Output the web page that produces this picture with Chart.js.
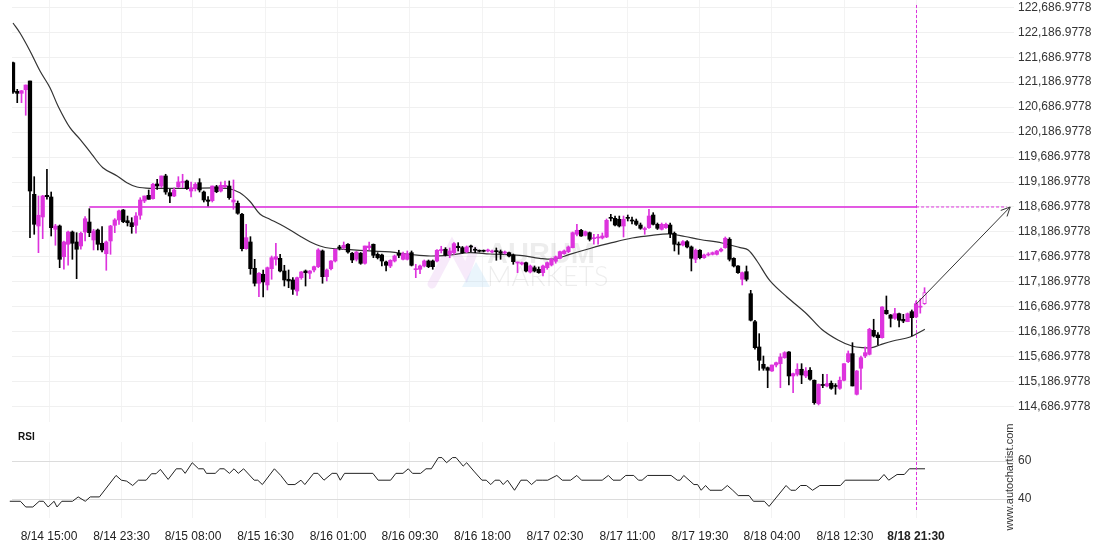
<!DOCTYPE html>
<html>
<head>
<meta charset="utf-8">
<script src="https://cdn.jsdelivr.net/npm/chart.js@4.4.1/dist/chart.umd.min.js"></script>
<style>
  body { margin: 0; background: #fff; }
  #wrap { position: relative; width: 1110px; height: 550px; }
  canvas { position: absolute; left: 0; }
</style>
</head>
<body>
<div id="wrap">
  <canvas id="priceChart" width="1110" height="422" style="top:0"></canvas>
  <canvas id="rsiChart" width="1110" height="128" style="top:422px"></canvas>
</div>
<script>
// 30 min candles, index 0 = first bar on the left
const opens = [
  121577, 121004, 120964, 121036, 121211, 118941, 118306, 118487, 118921, 118887,
  118240, 118306, 117691, 117940, 118186, 117986, 117906, 118186, 118386, 118026,
  118226, 117960, 117751, 118006, 118320, 118427, 118627, 118412, 118372, 118320,
  118521, 118807, 118921, 118853, 119148, 119107, 119308, 118973, 118907, 119093,
  119177, 119208, 119007, 119054, 119174, 118987, 118827, 118813, 119093, 119007,
  119093, 119107, 118787, 118761, 118541, 117852, 117986, 117459, 117159, 117339,
  117125, 117451, 117639, 117659, 117405, 117239, 117225, 117004, 117271, 117405,
  117359, 117425, 117491, 117806, 117291, 117451, 117605, 117886, 117872, 117940,
  117760, 117639, 117760, 117559, 117872, 117940, 117739, 117725, 117585, 117505,
  117605, 117759, 117639, 117639, 117772, 117431, 117439, 117505, 117605, 117605,
  117605, 117812, 117840, 117739, 117772, 117900, 117872, 117792, 117906, 117826,
  117806, 117806, 117806, 117786, 117806, 117792, 117766, 117772, 117725, 117565,
  117545, 117571, 117385, 117471, 117439, 117371, 117471, 117525, 117600, 117659,
  117751, 117792, 117872, 118140, 118220, 118120, 118172, 118052, 118066, 118066,
  118086, 118473, 118460, 118440, 118306, 118473, 118420, 118406, 118326, 118236,
  118272, 118526, 118340, 118240, 118272, 118326, 118160, 117940, 117926, 117992,
  117886, 117639, 117820, 117671, 117725, 117739, 117739, 117806, 117872, 118040,
  117659, 117505, 117239, 117391, 116950, 116389, 115883, 115536, 115468, 115402,
  115522, 115548, 115669, 115783, 115302, 115336, 115436, 115302, 115416, 115216,
  114747, 115122, 115102, 115156, 115102, 115055, 115216, 115588, 115749, 114935,
  115456, 115702, 115736, 116217, 116123, 116069, 116618, 116524, 116457, 116550,
  116437, 116389, 116590, 116484, 116680, 116750
];
const highs = [
  121591, 121044, 121020, 121130, 121211, 119294, 118907, 118921, 119442, 118987,
  118340, 118326, 118006, 118206, 118206, 118172, 118186, 118493, 118653, 118240,
  118246, 118292, 118006, 118320, 118453, 118627, 118637, 118506, 118473, 118573,
  118873, 118907, 119027, 119162, 119242, 119308, 119342, 119041, 119073, 119294,
  119342, 119228, 119188, 119174, 119254, 119007, 118893, 119107, 119121, 119188,
  119208, 119208, 119228, 118807, 118561, 118340, 118092, 117639, 117375, 117425,
  117485, 117705, 117960, 117739, 117519, 117425, 117271, 117285, 117395, 117425,
  117415, 117505, 117852, 117826, 117445, 117615, 117846, 117920, 117986, 117956,
  117776, 117796, 117776, 117906, 117986, 117946, 117772, 117745, 117605, 117631,
  117725, 117820, 117786, 117806, 117806, 117539, 117525, 117625, 117625, 117625,
  117836, 117900, 117872, 117866, 117972, 117972, 117896, 117906, 117926, 117872,
  117826, 117826, 117846, 117826, 117866, 117826, 117806, 117786, 117745, 117585,
  117585, 117585, 117525, 117505, 117485, 117525, 117585, 117665, 117705, 117806,
  117826, 117906, 118186, 118340, 118240, 118206, 118186, 118140, 118140, 118166,
  118446, 118540, 118506, 118506, 118506, 118526, 118486, 118446, 118366, 118286,
  118641, 118573, 118366, 118366, 118366, 118366, 118186, 117986, 118016, 118016,
  117906, 117846, 117836, 117745, 117772, 117786, 117816, 117866, 118086, 118072,
  117671, 117515, 117385, 117505, 117018, 116418, 116149, 115702, 115482, 115522,
  115582, 115749, 115789, 115789, 115362, 115548, 115548, 115468, 115468, 115222,
  115142, 115336, 115336, 115202, 115148, 115282, 115548, 115803, 115969, 115412,
  115702, 115883, 116257, 116438, 116169, 116694, 116904, 116534, 116658, 116564,
  116537, 116564, 116624, 116804, 116850, 117070
];
const lows = [
  120964, 120776, 120776, 120524, 118072, 118140, 117772, 118052, 118841, 118106,
  117920, 117471, 117439, 117519, 117639, 117251, 117840, 118006, 118092, 117826,
  117826, 117786, 117419, 117739, 118172, 118340, 118372, 118306, 118160, 118160,
  118440, 118773, 118841, 118841, 119041, 119073, 118941, 118773, 118893, 119073,
  119073, 119041, 118887, 119007, 118987, 118787, 118707, 118787, 118973, 118987,
  119073, 118841, 118641, 118541, 117806, 117840, 117339, 117104, 116890, 116884,
  117024, 117239, 117519, 117385, 117104, 117070, 116938, 116918, 117239, 117104,
  117251, 117385, 117471, 117159, 117205, 117425, 117585, 117826, 117840, 117760,
  117571, 117605, 117539, 117539, 117826, 117671, 117645, 117505, 117405, 117471,
  117585, 117671, 117625, 117625, 117505, 117271, 117351, 117485, 117471, 117439,
  117585, 117766, 117705, 117671, 117739, 117806, 117760, 117772, 117792, 117772,
  117786, 117786, 117786, 117766, 117619, 117639, 117745, 117685, 117539, 117371,
  117525, 117385, 117365, 117385, 117359, 117305, 117439, 117505, 117560, 117645,
  117739, 117772, 117866, 118106, 118096, 118106, 118006, 117940, 117940, 118046,
  118072, 118406, 118306, 118286, 118086, 118406, 118346, 118316, 118240, 118140,
  118260, 118326, 118236, 118226, 118260, 118072, 117806, 117739, 117906, 117866,
  117405, 117571, 117645, 117659, 117705, 117725, 117725, 117786, 117860, 117605,
  117485, 117355, 117125, 117205, 116403, 115837, 115416, 115416, 115067, 115392,
  115482, 115067, 115656, 115122, 114967, 115302, 115148, 115268, 115216, 114735,
  114721, 115067, 115081, 115035, 114935, 115035, 115202, 115568, 115102, 114921,
  115035, 115669, 115722, 116083, 115923, 116057, 116537, 116283, 116437, 116283,
  116369, 116389, 116103, 116470, 116560, 116737
];
const closes = [
  120990, 120964, 121016, 121130, 119007, 118340, 118521, 118907, 118893, 118272,
  118306, 117639, 117986, 118186, 117960, 117840, 118160, 118452, 118172, 118206,
  117940, 117826, 117986, 118306, 118427, 118607, 118392, 118372, 118292, 118506,
  118827, 118907, 118841, 119142, 119107, 119308, 118987, 118907, 119027, 119188,
  119194, 119054, 119067, 119142, 119027, 118827, 118801, 119107, 118993, 119121,
  119121, 118873, 118827, 118561, 117852, 118072, 117451, 117159, 117359, 117185,
  117471, 117671, 117691, 117405, 117225, 117205, 117038, 117271, 117385, 117371,
  117405, 117491, 117826, 117291, 117425, 117605, 117840, 117860, 117920, 117786,
  117625, 117786, 117559, 117906, 117906, 117719, 117671, 117605, 117519, 117619,
  117705, 117719, 117751, 117751, 117519, 117445, 117505, 117605, 117491, 117491,
  117820, 117836, 117725, 117806, 117952, 117872, 117772, 117886, 117886, 117820,
  117800, 117800, 117806, 117792, 117792, 117760, 117766, 117705, 117591, 117571,
  117571, 117405, 117505, 117405, 117371, 117505, 117571, 117639, 117690, 117792,
  117806, 117886, 118172, 118220, 118106, 118192, 118040, 118060, 118072, 118106,
  118420, 118460, 118326, 118306, 118440, 118460, 118406, 118340, 118260, 118240,
  118506, 118340, 118260, 118340, 118340, 118152, 117940, 117926, 117992, 117886,
  117659, 117820, 117671, 117725, 117739, 117772, 117806, 117840, 118060, 117639,
  117505, 117371, 117371, 117239, 116418, 115869, 115616, 115456, 115416, 115522,
  115568, 115682, 115769, 115302, 115348, 115436, 115322, 115402, 115236, 114767,
  115136, 115112, 115148, 115055, 115092, 115216, 115548, 115749, 115102, 115402,
  115669, 115769, 116237, 116103, 116069, 116684, 116550, 116457, 116550, 116418,
  116403, 116550, 116470, 116750, 116700, 116970
];

// moving average, read at bar positions
const maIdx = [0, 1.65, 4.01, 6.37, 8.72, 10.61, 13.43, 15.82, 18.6, 21.19, 24.57, 26.86, 29.25, 32.33,
  41.09, 50.44, 53.52, 55.91, 58.3, 60.58, 62.97, 65.36, 67.65, 70.03, 72.42, 74.81, 79.49, 84.16,
  88.94, 93.61, 98.39, 103.06, 107.74, 112.51, 119.58, 124.25, 127.83, 131.31, 136.09, 141.26,
  146.04, 150.71, 154.99, 158.47, 162.05, 167.23, 171.51, 173.4, 175.48, 178.57, 182.55, 187.22,
  190.8, 194.58, 197.87, 200.45, 202.54, 204.43, 207.52, 211.6, 215.08];
const maVals = [122372, 122172, 121812, 121411, 121076, 120710, 120275, 120043, 119742, 119474, 119308,
  119174, 119087, 119061, 119061, 119061, 118973, 118797, 118541, 118441, 118340, 118226, 118106,
  117992, 117906, 117860, 117832, 117806, 117786, 117739, 117705, 117725, 117771, 117745, 117719,
  117659, 117645, 117739, 117856, 117972, 118066, 118120, 118146, 118096, 118036, 117966, 117872,
  117826, 117605, 117205, 116884, 116544, 116233, 116023, 115902, 115868, 115868, 115923, 116003,
  116083, 116237];

// RSI turning points
const rsiIdx = [-0.76, 1.75, 3.0, 4.68, 6.18, 7.18, 8.27, 9.69, 10.36, 11.52, 14.03, 15.37, 17.04, 18.21,
  20.38, 24.3, 25.56, 26.81, 28.23, 29.57, 31.41, 32.66, 33.74, 34.75, 36.59, 38.51, 39.76, 40.6,
  42.27, 43.77, 44.95, 45.61, 47.7, 48.79, 49.79, 51.04, 52.13, 53.13, 54.39, 56.89, 57.73, 58.81,
  61.65, 63.15, 64.82, 66.49, 67.92, 68.83, 70.92, 71.92, 73.35, 75.27, 76.35, 77.19, 78.19, 84.88,
  86.13, 89.06, 90.31, 91.98, 93.23, 94.23, 96.15, 97.41, 98.67, 100.34, 101.17, 102.26, 103.67,
  104.5, 106.18, 107.01, 108.68, 110.6, 111.61, 112.69, 113.7, 114.78, 115.62, 116.62, 118.29,
  119.8, 121.22, 122.3, 123.48, 124.98, 126.13, 128.27, 129.55, 131.52, 132.98, 134.09, 138.97,
  140.42, 141.53, 143.24, 144.53, 146.41, 147.52, 148.38, 149.66, 155.22, 156.67, 157.36, 158.21,
  160.61, 161.47, 162.32, 163.35, 164.37, 167.2, 168.48, 169.76, 171.05, 173.61, 174.64, 177.21,
  178.32, 182.34, 183.45, 184.57, 185.76, 187.13, 188.59, 190.3, 195.17, 196.29, 204.24, 205.44,
  206.55, 208.52, 210.23, 211.43, 215.11];
const rsiVals = [38.8, 38.8, 35.8, 35.8, 38.8, 38.8, 35.8, 38.8, 35.8, 38.8, 38.8, 41.1, 38.8, 41.1,
  41.1, 52.4, 49.9, 49.4, 47.1, 49.9, 49.9, 53.3, 53.3, 55.6, 50.3, 55.9, 55.9, 53.5,
  59.1, 55.9, 55.9, 53.5, 53.5, 55.9, 55.9, 53.5, 55.9, 53.5, 55.9, 49.9, 49.9, 47.6,
  55.9, 52.4, 47.6, 47.6, 49.9, 47.6, 53.5, 53.5, 49.9, 53.5, 53.5, 49.9, 53.5, 53.5,
  49.9, 49.9, 53.5, 53.5, 55.9, 53.5, 53.5, 55.9, 55.9, 61.8, 61.8, 59.1, 61.8,
  61.8, 57.3, 59.1, 54.7, 49.9, 49.9, 47.6, 49.9, 49.9, 47.6, 49.9, 44.6,
  49.9, 49.9, 47.6, 49.9, 49.9, 49.9, 52.4, 49.9, 49.9, 52.4, 49.9, 49.9,
  52.4, 49.9, 49.9, 52.4, 52.4, 49.9, 49.9, 52.4, 52.4, 49.9, 49.9, 52.4,
  47.6, 47.6, 44.6, 47.1, 44.6, 44.6, 47.1, 44.6, 41.8, 41.8, 38.8, 38.8,
  36.1, 47.1, 44.6, 44.6, 47.1, 47.1, 44.6, 47.1, 47.1, 49.9, 49.9, 52.9,
  49.9, 52.9, 52.9, 55.9, 55.9];

const tickIdx = [8.49, 25.59, 42.45, 59.55, 76.65, 93.63, 110.73, 127.83, 144.93, 162.03, 179.01, 196.23, 213];
const tickLabels = ["8/14 15:00", "8/14 23:30", "8/15 08:00", "8/15 16:30", "8/16 01:00", "8/16 09:30",
  "8/16 18:00", "8/17 02:30", "8/17 11:00", "8/17 19:30", "8/18 04:00", "8/18 12:30", "8/18 21:30"];
const priceTicks = [114686.9778, 115186.9778, 115686.9778, 116186.9778, 116686.9778, 117186.9778,
  117686.9778, 118186.9778, 118686.9778, 119186.9778, 119686.9778, 120186.9778, 120686.9778,
  121186.9778, 121686.9778, 122186.9778, 122686.9778];
const rsiTicks = [40, 60];

const level = 118686.9778;
const levelStart = 18;
const nowIdx = 213;
const arrowFrom = [213, 116740];
const arrowTo = [235.2, 118686.9778];

const BULL = '#dd33dd';
const BEAR = '#000000';
const X_MIN = -0.24, X_MAX = 236.1;

Chart.defaults.font.family = "'Liberation Sans', Arial, sans-serif";
Chart.defaults.font.size = 12;
Chart.defaults.color = '#333';

const last = opens.length - 1;
const colors = opens.map((o, i) => closes[i] >= o ? BULL : BEAR);

const nowLine = {
  id: 'nowLine',
  afterDatasetsDraw(chart, args, opts) {
    const { ctx, scales: { x, y } } = chart;
    const px = Math.round(x.getPixelForValue(nowIdx)) + 0.5;
    const top = opts.from != null ? y.getPixelForValue(opts.from) : 0;
    const bottom = opts.to != null ? y.getPixelForValue(opts.to) : chart.height;
    ctx.save();
    ctx.strokeStyle = BULL;
    ctx.lineWidth = 1;
    ctx.setLineDash([3, 2]);
    ctx.beginPath();
    ctx.moveTo(px, top);
    ctx.lineTo(px, bottom);
    ctx.stroke();
    ctx.restore();
  }
};

const arrow = {
  id: 'arrow',
  afterDatasetsDraw(chart) {
    const { ctx, scales: { x, y } } = chart;
    const x1 = x.getPixelForValue(arrowFrom[0]), y1 = y.getPixelForValue(arrowFrom[1]);
    const x2 = x.getPixelForValue(arrowTo[0]), y2 = y.getPixelForValue(arrowTo[1]);
    const a = Math.atan2(y2 - y1, x2 - x1), h = 10;
    ctx.save();
    ctx.strokeStyle = '#333';
    ctx.lineWidth = 1;
    ctx.beginPath();
    ctx.moveTo(x1, y1);
    ctx.lineTo(x2, y2);
    ctx.moveTo(x2 - h * Math.cos(a - 0.45), y2 - h * Math.sin(a - 0.45));
    ctx.lineTo(x2, y2);
    ctx.lineTo(x2 - h * Math.cos(a + 0.45), y2 - h * Math.sin(a + 0.45));
    ctx.stroke();
    ctx.restore();
  }
};

// faint broker watermark behind the candles
const watermark = {
  id: 'watermark',
  beforeDatasetsDraw(chart) {
    const ctx = chart.ctx;
    ctx.save();
    ctx.lineCap = 'round';
    ctx.lineWidth = 9;
    ctx.strokeStyle = 'rgba(225,170,235,0.25)';
    ctx.beginPath();
    ctx.moveTo(432, 284); ctx.lineTo(452, 246); ctx.lineTo(466, 272); ctx.lineTo(474, 250);
    ctx.stroke();
    ctx.fillStyle = 'rgba(170,215,245,0.25)';
    ctx.beginPath();
    ctx.moveTo(462, 287); ctx.lineTo(476, 262); ctx.lineTo(490, 287); ctx.closePath();
    ctx.fill();
    ctx.fillStyle = 'rgba(0,0,0,0.07)';
    ctx.textBaseline = 'alphabetic';
    ctx.font = "bold 29px 'Liberation Sans', Arial, sans-serif";
    ctx.fillText('AURUM', 487, 263);
    ctx.font = "300 27px Lato, 'Liberation Sans', sans-serif";
    ctx.fillText('MARKETS', 487, 286);
    ctx.restore();
  }
};

const rsiText = {
  id: 'rsiText',
  afterDraw(chart) {
    const ctx = chart.ctx;
    ctx.save();
    ctx.fillStyle = '#111';
    ctx.font = "bold 10px 'Liberation Sans', Arial, sans-serif";
    ctx.textBaseline = 'middle';
    ctx.fillText('RSI', 18, 15);
    ctx.translate(1010, 55);
    ctx.rotate(-Math.PI / 2);
    ctx.textAlign = 'center';
    ctx.fillStyle = '#333';
    ctx.font = "11px 'Liberation Sans', Arial, sans-serif";
    ctx.fillText('www.autochartist.com', 0, 0);
    ctx.restore();
  }
};

function fixY(width) {
  return (scale) => {
    scale.width = width;
    scale.paddingTop = 0;
    scale.paddingBottom = 0;
  };
}

new Chart(document.getElementById('priceChart'), {
  type: 'bar',
  data: {
    datasets: [
      {
        type: 'line',
        data: [{ x: levelStart, y: level }, { x: nowIdx, y: level }],
        borderColor: 'rgba(221,51,221,0.8)',
        borderWidth: 2,
        pointRadius: 0,
        order: 5
      },
      {
        type: 'line',
        data: [{ x: nowIdx, y: level }, { x: 234.4, y: level }],
        borderColor: BULL,
        borderWidth: 1,
        borderDash: [3, 2],
        pointRadius: 0,
        order: 5
      },
      {
        type: 'line',
        data: maIdx.map((v, i) => ({ x: v, y: maVals[i] })),
        borderColor: '#333',
        borderWidth: 1.2,
        tension: 0.35,
        pointRadius: 0,
        order: 4
      },
      {
        data: opens.map((o, i) => ({ x: i, y: [lows[i], highs[i]] })),
        backgroundColor: colors,
        barThickness: 1,
        grouped: false,
        order: 2
      },
      {
        data: opens.map((o, i) => ({ x: i, y: [o, closes[i]] })),
        backgroundColor: colors.map((c, i) => i === last ? '#ffffff' : c),
        borderColor: BULL,
        borderWidth: colors.map((c, i) => i === last ? 1 : 0),
        borderSkipped: false,
        barThickness: 3.6,
        minBarLength: 1,
        grouped: false,
        order: 1
      }
    ]
  },
  options: {
    responsive: false,
    animation: false,
    events: [],
    layout: { padding: { left: 12, top: 0, right: 0, bottom: 0 } },
    plugins: {
      legend: { display: false },
      tooltip: { enabled: false },
      nowLine: { from: 122733 }
    },
    scales: {
      x: {
        type: 'linear',
        min: X_MIN,
        max: X_MAX,
        offset: false,
        grid: { color: '#f3f3f3', drawTicks: false, offset: false },
        border: { display: false },
        ticks: { display: false },
        afterBuildTicks: (scale) => { scale.ticks = tickIdx.map(v => ({ value: v })); },
        afterFit: (scale) => { scale.height = 0; }
      },
      y: {
        position: 'right',
        min: 114380,
        max: 122833,
        grid: { color: '#f0f0f0', drawTicks: false },
        border: { display: false },
        ticks: {
          padding: 4,
          color: '#333',
          callback: (v) => v.toLocaleString('en-US', { minimumFractionDigits: 4, maximumFractionDigits: 4 })
        },
        afterBuildTicks: (scale) => { scale.ticks = priceTicks.map(v => ({ value: v })); },
        afterFit: fixY(96)
      }
    }
  },
  plugins: [watermark, nowLine, arrow]
});

new Chart(document.getElementById('rsiChart'), {
  type: 'line',
  data: {
    datasets: [{
      data: rsiIdx.map((v, i) => ({ x: v, y: rsiVals[i] })),
      borderColor: '#222',
      borderWidth: 1,
      pointRadius: 0,
      tension: 0,
      clip: false
    }]
  },
  options: {
    responsive: false,
    animation: false,
    events: [],
    layout: { padding: { left: 12, top: 20, right: 0, bottom: 0 } },
    plugins: {
      legend: { display: false },
      tooltip: { enabled: false },
      nowLine: { to: 33.2 }
    },
    scales: {
      x: {
        type: 'linear',
        min: X_MIN,
        max: X_MAX,
        grid: { color: '#f3f3f3', drawTicks: false },
        border: { display: false },
        ticks: {
          padding: 11,
          color: '#222',
          autoSkip: false,
          maxRotation: 0,
          font: (c) => ({ size: 12, weight: c.tick && c.tick.value === nowIdx ? 'bold' : 'normal' }),
          callback: (v, i) => tickLabels[i]
        },
        afterBuildTicks: (scale) => { scale.ticks = tickIdx.map(v => ({ value: v })); },
        afterFit: (scale) => { scale.height = 32; scale.paddingLeft = 0; scale.paddingRight = 0; }
      },
      y: {
        position: 'right',
        min: 30,
        max: 70,
        grid: { color: '#dcdcdc', drawTicks: false },
        border: { display: false },
        ticks: { padding: 4, color: '#333' },
        afterBuildTicks: (scale) => { scale.ticks = rsiTicks.map(v => ({ value: v })); },
        afterFit: fixY(96)
      }
    }
  },
  plugins: [nowLine, rsiText]
});
</script>
</body>
</html>
